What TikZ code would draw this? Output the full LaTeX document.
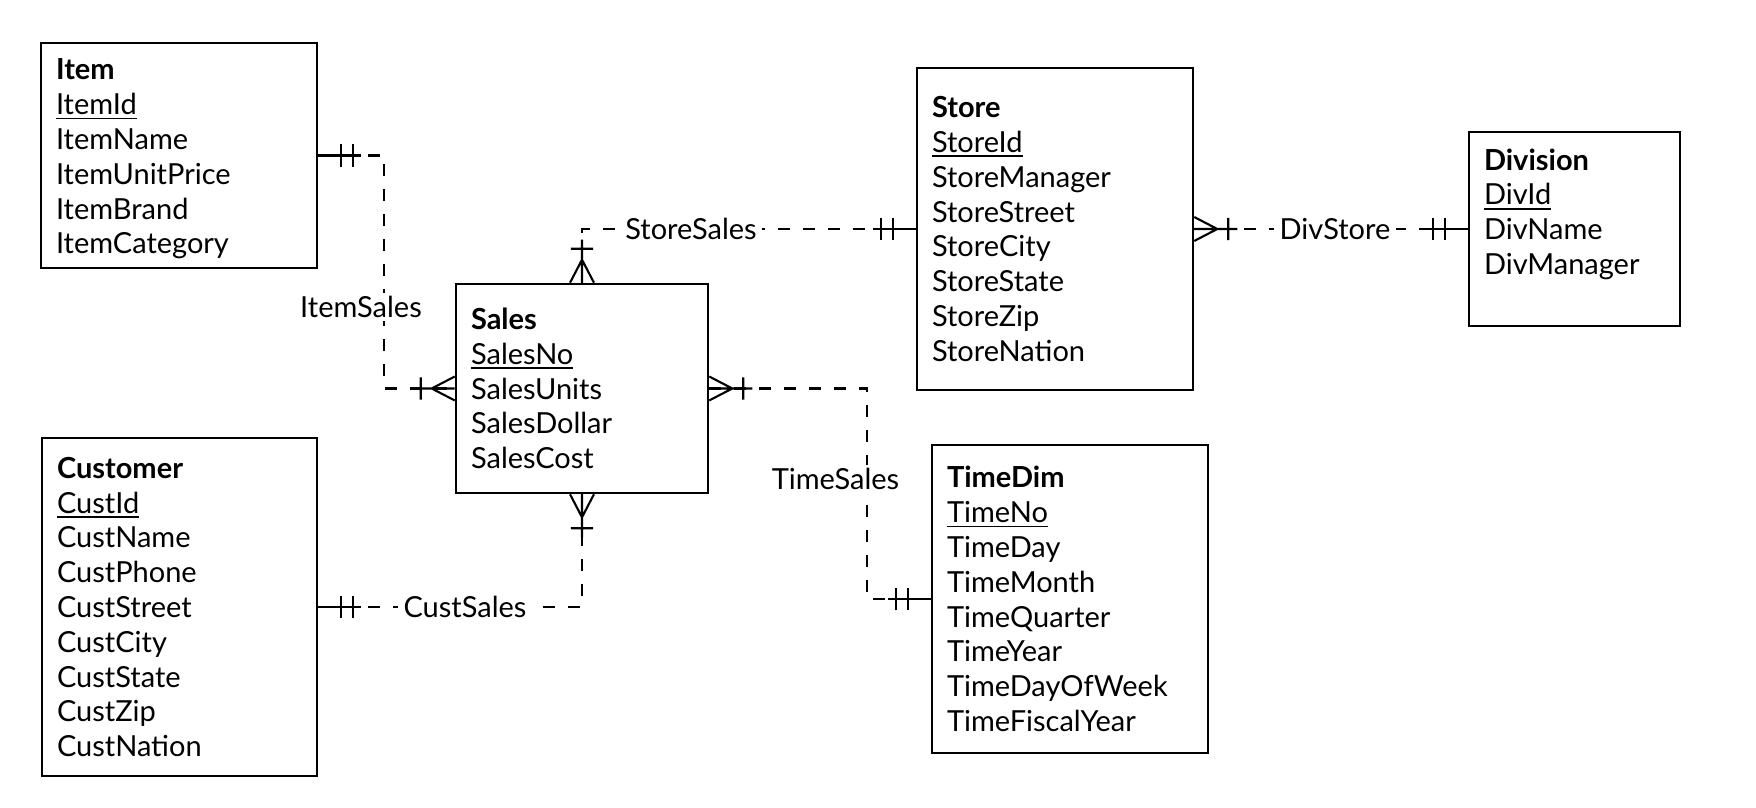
\documentclass[tikz,border=0pt]{standalone}
\usepackage{fontspec}
\setmainfont{Lato}
\usetikzlibrary{decorations.markings}

\newcommand{\keyattr}[1]{\leavevmode\setbox0\hbox{#1}\rlap{\rule[-2.6pt]{\wd0}{0.9pt}}\box0}
\newcommand{\onebars}[1]{\draw[solid,xscale=#1] (0,0) -- (-24.5pt,0) (-13.1pt,-6.3pt) -- (-13.1pt,6.3pt) (-19.9pt,-6.3pt) -- (-19.9pt,6.3pt);}
\newcommand{\crowbar}[1]{\draw[solid,xscale=#1] (0,0) -- (-24.5pt,0) (0,-6.8pt) -- (-13.1pt,0) -- (0,6.8pt) (-19.3pt,-6.3pt) -- (-19.3pt,6.3pt);}

\tikzset{
	entity/.style={draw, line width=1.5pt, align=left, inner xsep=0.3cm, inner ysep=2pt, font=\fontsize{16.5}{19.8}\selectfont},
	rel/.style={line width=1.2pt, dash pattern=on 6.8pt off 7.4pt},
	relname/.style={fill=white, inner xsep=3pt, inner ysep=2pt, font=\fontsize{16.5}{19.8}\selectfont},
	onestart/.style={postaction={decorate,decoration={markings,mark=at position 0 with {\onebars{-1}}}}},
	oneend/.style={postaction={decorate,decoration={markings,mark=at position 1 with {\onebars{1}}}}},
	manystart/.style={postaction={decorate,decoration={markings,mark=at position 0 with {\crowbar{-1}}}}},
	manyend/.style={postaction={decorate,decoration={markings,mark=at position 1 with {\crowbar{1}}}}}
}

\begin{document}
\begin{tikzpicture}[x=0.02cm,y=0.02cm]
				\useasboundingbox (0,0) rectangle (1756,808);
				
				\node[entity, text width=4.92cm, minimum height=4.5cm, text depth=98pt] (item) at (179,652.5) {\textbf{Item}\\ \keyattr{ItemId}\\ ItemName\\ ItemUnitPrice\\ ItemBrand\\ ItemCategory};
				\node[entity, text width=4.9cm, minimum height=6.76cm] (customer) at (179.5,201) {\textbf{Customer}\\ \keyattr{CustId}\\ CustName\\ CustPhone\\ CustStreet\\ CustCity\\ CustState\\ CustZip\\ CustNation};
				\node[entity, text width=4.44cm, minimum height=4.18cm] (sales) at (582,419.5) {\textbf{Sales}\\ \keyattr{SalesNo}\\ SalesUnits\\ SalesDollar\\ SalesCost};
				\node[entity, text width=4.92cm, minimum height=6.44cm] (store) at (1055,579) {\textbf{Store}\\ \keyattr{StoreId}\\ StoreManager\\ StoreStreet\\ StoreCity\\ StoreState\\ StoreZip\\ StoreNation};
				\node[entity, text width=3.62cm, minimum height=3.88cm] (division) at (1574.5,579) {\textbf{Division}\\ \keyattr{DivId}\\ DivName\\ DivManager\\ \mbox{}};
				\node[entity, text width=4.92cm, minimum height=6.16cm] (timedim) at (1070,209) {\textbf{TimeDim}\\ \keyattr{TimeNo}\\ TimeDay\\ TimeMonth\\ TimeQuarter\\ TimeYear\\ TimeDayOfWeek\\ TimeFiscalYear};
				
				\draw[rel, onestart, manyend] (item.east) -- ++(66,0) |- (sales.west);
				\draw[rel, manystart, oneend] (sales.north) |- (store.west);
				\draw[rel, manystart, oneend] (store.east) -- (division.west);
				\draw[rel, manystart, oneend] (sales.east) -- ++(158,0) |- (timedim.west);
				\draw[rel, onestart, manyend] (customer.east) -| (sales.south);
				
				\node[relname] (itemsales) at (361,501) {ItemSales};
				\node[relname] (storesales) at (691,579) {StoreSales};
				\node[relname] (divstore) at (1335,579) {DivStore};
				\node[relname] (timesales) at (835.5,329) {TimeSales};
				\node[relname] (custsales) at (465,201) {CustSales};
\end{tikzpicture}
\end{document}
